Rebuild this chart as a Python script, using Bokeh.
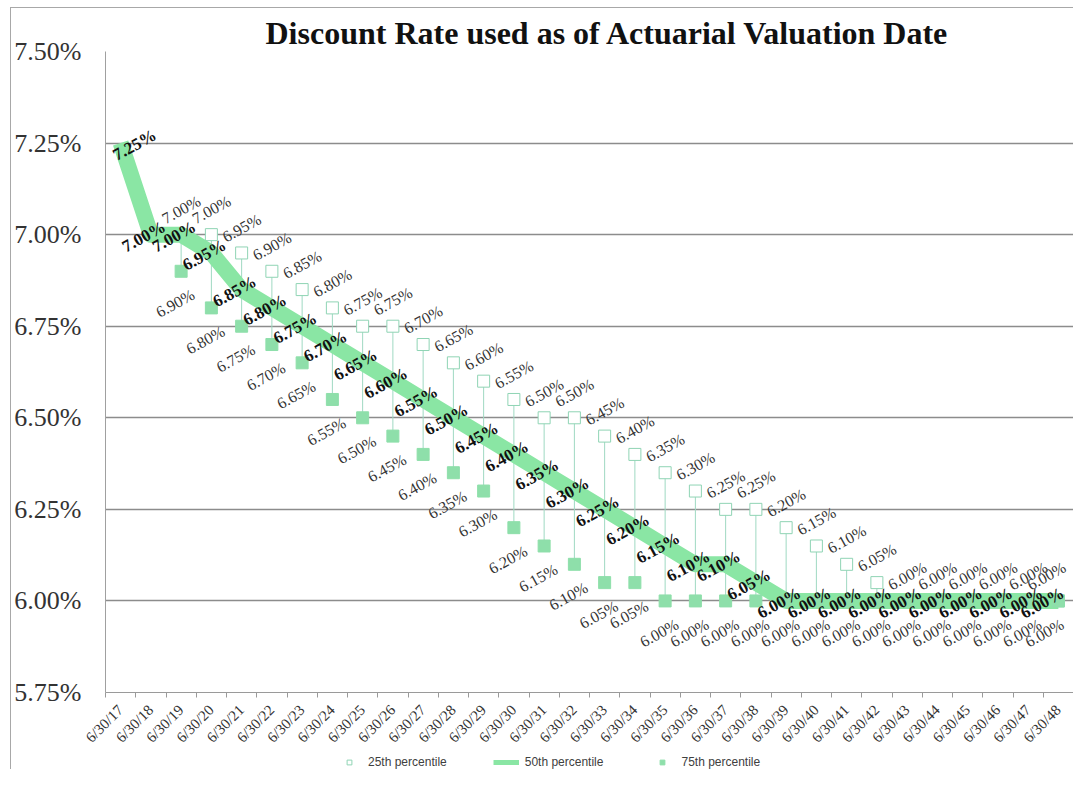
import math
from bokeh.plotting import figure
from bokeh.layouts import column
from bokeh.models import (Range1d, FixedTicker, PrintfTickFormatter, ColumnDataSource,
                          Legend, LegendItem)
from bokeh.core.properties import value, field
from bokeh.embed import file_html
from bokeh.resources import INLINE

# ---------------- data ----------------
dates = ["6/30/17", "6/30/18", "6/30/19", "6/30/20", "6/30/21", "6/30/22", "6/30/23", "6/30/24",
         "6/30/25", "6/30/26", "6/30/27", "6/30/28", "6/30/29", "6/30/30", "6/30/31", "6/30/32",
         "6/30/33", "6/30/34", "6/30/35", "6/30/36", "6/30/37", "6/30/38", "6/30/39", "6/30/40",
         "6/30/41", "6/30/42", "6/30/43", "6/30/44", "6/30/45", "6/30/46", "6/30/47", "6/30/48"]

p25 = [None, None, 7.00, 7.00, 6.95, 6.90, 6.85, 6.80, 6.75, 6.75, 6.70, 6.65, 6.60, 6.55, 6.50, 6.50,
       6.45, 6.40, 6.35, 6.30, 6.25, 6.25, 6.20, 6.15, 6.10, 6.05, 6.00, 6.00, 6.00, 6.00, 6.00, 6.00]
p50 = [7.25, 7.00, 7.00, 6.95, 6.85, 6.80, 6.75, 6.70, 6.65, 6.60, 6.55, 6.50, 6.45, 6.40, 6.35, 6.30,
       6.25, 6.20, 6.15, 6.10, 6.10, 6.05, 6.00, 6.00, 6.00, 6.00, 6.00, 6.00, 6.00, 6.00, 6.00, 6.00]
p75 = [None, None, 6.90, 6.80, 6.75, 6.70, 6.65, 6.55, 6.50, 6.45, 6.40, 6.35, 6.30, 6.20, 6.15, 6.10,
       6.05, 6.05, 6.00, 6.00, 6.00, 6.00, 6.00, 6.00, 6.00, 6.00, 6.00, 6.00, 6.00, 6.00, 6.00, 6.00]

y_ticks = [5.75, 6.00, 6.25, 6.50, 6.75, 7.00, 7.25, 7.50]
series_names = ["25th percentile", "50th percentile", "75th percentile"]
title_text = "Discount Rate used as of Actuarial Valuation Date"

# ---------------- sources ----------------
n = len(dates)
xs = [i + 0.5 for i in range(n)]


def make_src(vals, dx, dx_first=None, dx_last=None):
    idx = [i for i, v in enumerate(vals) if v is not None]
    offs = []
    for i in idx:
        o = dx
        if i == 0 and dx_first is not None:
            o = dx_first
        if i == n - 1 and dx_last is not None:
            o = dx_last
        offs.append(o)
    return ColumnDataSource(dict(x=[xs[i] for i in idx], y=[vals[i] for i in idx],
                                 label=["%.2f%%" % vals[i] for i in idx], dx=offs))


src25 = make_src(p25, 0, dx_last=-12)
src50 = make_src(p50, -7, dx_first=14, dx_last=-16)
src75 = make_src(p75, -6, dx_last=-14)

seg_x, seg_y0, seg_y1 = [], [], []
for x, a, b in zip(xs, p25, p75):
    if a is not None and b is not None:
        seg_x.append(x)
        seg_y0.append(a)
        seg_y1.append(b)
src_seg = ColumnDataSource(dict(x=seg_x, y0=seg_y0, y1=seg_y1))

W = 1062
H_MAIN = 746
H_LEG = 15

# ---------------- main figure ----------------
p = figure(width=W, height=H_MAIN,
           x_range=Range1d(0, n), y_range=Range1d(y_ticks[0], y_ticks[-1]),
           output_backend="svg", toolbar_location=None,
           min_border_left=91, min_border_right=0, min_border_top=43, min_border_bottom=61,
           title=title_text)

p.title.text_font = "Liberation Serif"
p.title.text_font_size = "32px"
p.title.text_font_style = "bold"
p.title.text_color = "#111111"
p.title.align = "left"
p.title.offset = 160
p.title.standoff = 2

p.outline_line_color = None
p.background_fill_color = "white"
p.border_fill_color = "white"

# x axis
xa = p.xaxis[0]
xa.ticker = FixedTicker(ticks=xs, minor_ticks=list(range(0, n + 1)))
xa.major_label_overrides = {x: d for x, d in zip(xs, dates)}
xa.major_tick_line_color = None
xa.minor_tick_out = 5
xa.minor_tick_in = 0
xa.minor_tick_line_color = "#9a9a9a"
xa.axis_line_color = "#9a9a9a"
xa.major_label_orientation = math.pi / 4
xa.major_label_standoff = 9
xa.major_label_text_font = "Liberation Serif"
xa.major_label_text_font_size = "15px"
xa.major_label_text_color = "#333333"
p.xgrid.visible = False

# y axis
ya = p.yaxis[0]
ya.ticker = FixedTicker(ticks=y_ticks)
ya.formatter = PrintfTickFormatter(format="%.2f%%")
ya.major_tick_out = 0
ya.major_tick_in = 0
ya.minor_tick_line_color = None
ya.major_label_standoff = 24
ya.major_label_text_font = "Liberation Serif"
ya.major_label_text_font_size = "26px"
ya.major_label_text_color = "#333333"
ya.axis_line_color = "#a0a0a0"
p.ygrid.ticker = FixedTicker(ticks=y_ticks)
p.ygrid.grid_line_color = "#8c8c8c"
p.ygrid.grid_line_width = 1.5

# ---------------- glyphs ----------------
LINE_C = "#8ae6a4"
FILL_C = "#8edfaa"
HOLLOW_C = "#8fd4b4"
SEG_C = "#9fd9c2"

p.segment(x0="x", y0="y0", x1="x", y1="y1", source=src_seg, line_color=SEG_C, line_width=1)
p.scatter("x", "y", source=src25, marker="square", size=12,
          line_color=HOLLOW_C, fill_color="white", line_width=1)
p.line("x", "y", source=src50, line_color=LINE_C, line_width=16, line_join="round")
p.scatter("x", "y", source=src75, marker="square", size=12, line_color=FILL_C, fill_color=FILL_C)

angle = 0.5
common = dict(angle=angle, text_align="center", text_baseline="middle",
              text_font=value("Liberation Serif"))
p.text("x", "y", "label", source=src25, x_offset=field("dx"), y_offset=-25,
       text_font_size="16px", text_color="#333333", **common)
p.text("x", "y", "label", source=src75, x_offset=field("dx"), y_offset=32,
       text_font_size="16px", text_color="#333333", **common)
p.text("x", "y", "label", source=src50, x_offset=field("dx"), y_offset=2,
       text_font_size="17px", text_font_style="bold", text_color="#111111", **common)

# ---------------- legend strip (own small figure below the chart) ----------------
lg = figure(width=W, height=H_LEG, x_range=Range1d(0, 1), y_range=Range1d(0, 1),
            output_backend="svg", toolbar_location=None,
            x_axis_location=None, y_axis_location=None,
            min_border_left=0, min_border_right=0, min_border_top=0, min_border_bottom=0)
lg.outline_line_color = None
lg.grid.visible = False
lg.background_fill_color = "white"
lg.border_fill_color = "white"
# same series, outside this strip's ranges: only their legend swatches show
l25 = lg.scatter("x", "y", source=src25, marker="square", size=12,
                 line_color=HOLLOW_C, fill_color="white", line_width=1)
l50 = lg.line("x", "y", source=src50, line_color=LINE_C, line_width=5)
l75 = lg.scatter("x", "y", source=src75, marker="square", size=12,
                 line_color=FILL_C, fill_color=FILL_C)

legend = Legend(items=[LegendItem(label=series_names[0], renderers=[l25]),
                       LegendItem(label=series_names[1], renderers=[l50]),
                       LegendItem(label=series_names[2], renderers=[l75])],
                orientation="horizontal", location=(231, 0))
legend.label_text_font = "Liberation Sans"
legend.label_text_font_size = "12px"
legend.label_text_color = "#404040"
legend.glyph_width = 26
legend.glyph_height = 12
legend.label_height = 12
legend.label_standoff = 6
legend.spacing = 46
legend.padding = 0
legend.margin = 0
legend.border_line_color = None
legend.background_fill_alpha = 0
lg.add_layout(legend)

root = column(p, lg, spacing=0)
root.styles = {"border-left": "1px solid #a8a8a8", "border-top": "1px solid #a8a8a8",
               "margin-left": "10px", "margin-top": "7px"}

open("out.html", "w").write(file_html(root, INLINE))
